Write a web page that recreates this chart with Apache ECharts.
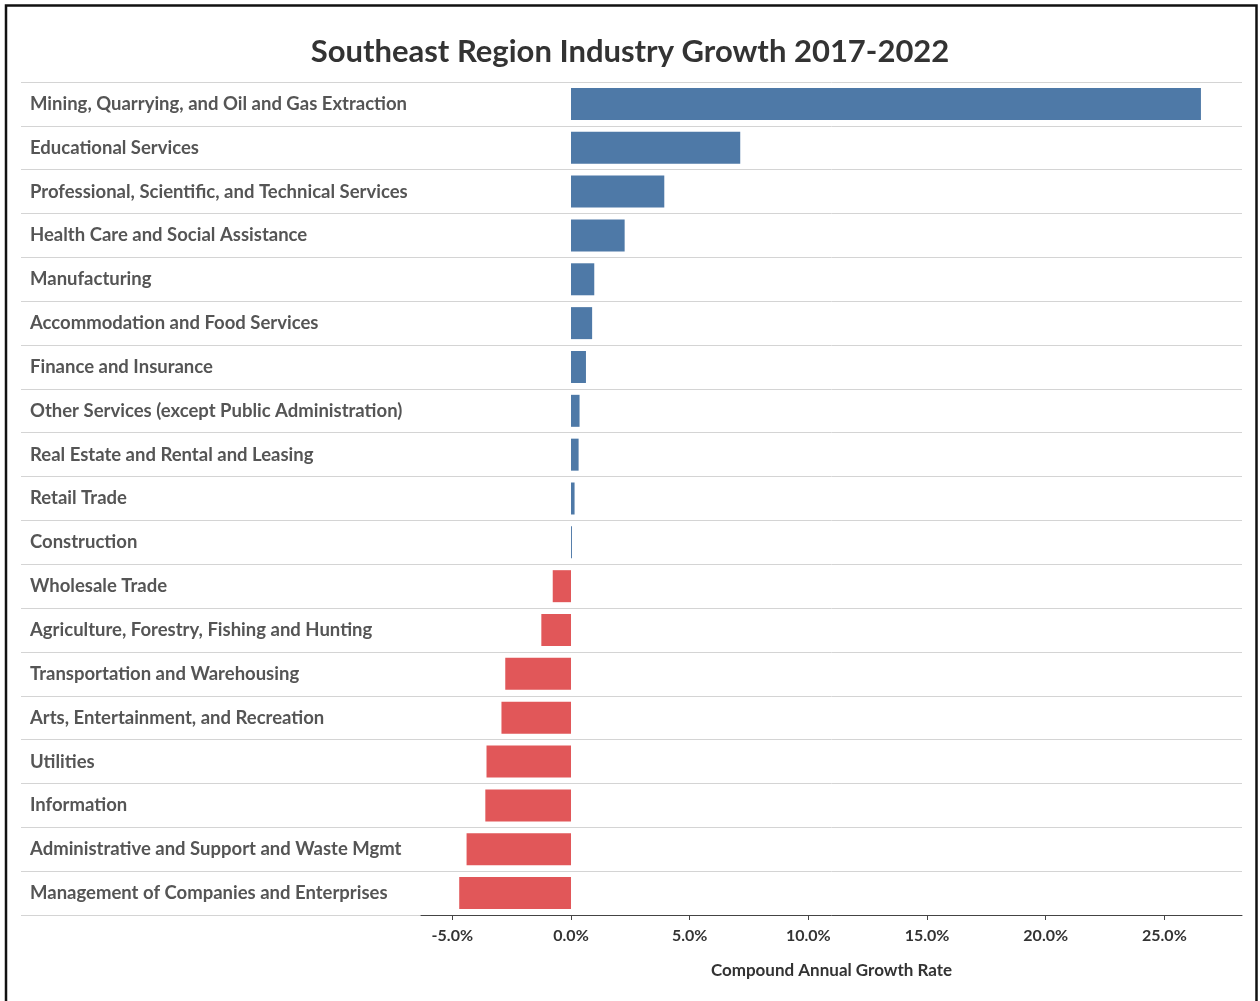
<!DOCTYPE html>
<html>
<head>
<meta charset="utf-8">
<title>Southeast Region Industry Growth 2017-2022</title>
<script src="https://cdn.jsdelivr.net/npm/echarts@6/dist/echarts.min.js"></script>
<style>
  html, body { margin: 0; padding: 0; background: #ffffff; }
  #chart { width: 1260px; height: 1001px; }
</style>
</head>
<body>
<div id="chart"></div>
<script>
// Industries, sorted from fastest growth to steepest decline
const industries = [
  'Mining, Quarrying, and Oil and Gas Extraction',
  'Educational Services',
  'Professional, Scientific, and Technical Services',
  'Health Care and Social Assistance',
  'Manufacturing',
  'Accommodation and Food Services',
  'Finance and Insurance',
  'Other Services (except Public Administration)',
  'Real Estate and Rental and Leasing',
  'Retail Trade',
  'Construction',
  'Wholesale Trade',
  'Agriculture, Forestry, Fishing and Hunting',
  'Transportation and Warehousing',
  'Arts, Entertainment, and Recreation',
  'Utilities',
  'Information',
  'Administrative and Support and Waste Mgmt',
  'Management of Companies and Enterprises'
];

// Compound annual growth rate, percent
const cagr = [
  26.54, 7.13, 3.93, 2.26, 0.98, 0.89, 0.63, 0.36, 0.32, 0.15, 0.04,
  -0.77, -1.25, -2.77, -2.93, -3.56, -3.61, -4.40, -4.71
];

// Tick values shown on the growth axis
const tickValues = [-5, 0, 5, 10, 15, 20, 25];

const POS_COLOR = '#4e79a7';
const NEG_COLOR = '#e15759';
const FONT = 'Lato, "Open Sans", sans-serif';

const chart = echarts.init(document.getElementById('chart'), null, { renderer: 'canvas' });

const gridTop = 82;
const gridBottom = 86;

const option = {
  backgroundColor: '#ffffff',
  animation: false,
  title: {
    text: 'Southeast Region Industry Growth 2017-2022',
    left: 'center',
    top: 31,
    textStyle: { fontFamily: FONT, fontSize: 31, fontWeight: 'bold', color: '#333333' }
  },
  graphic: [{
    type: 'rect',
    shape: { x: 6, y: 5.5, width: 1250.5, height: 1100 },
    style: { fill: 'none', stroke: '#111111', lineWidth: 2.5 },
    silent: true
  }],
  grid: [
    // label column
    { left: 21, width: 400, top: gridTop, bottom: gridBottom },
    // bar area
    { left: 421, right: 18, top: gridTop, bottom: gridBottom }
  ],
  xAxis: [
    { gridIndex: 0, type: 'value', show: false, min: 0, max: 1 },
    {
      gridIndex: 1,
      type: 'value',
      min: -6.32,
      max: 28.27,
      axisLine: { show: true, lineStyle: { color: '#444444', width: 1 } },
      axisTick: { show: true, length: 5, lineStyle: { color: '#444444' }, customValues: tickValues },
      axisLabel: {
        customValues: tickValues,
        formatter: v => v.toFixed(1) + '%',
        fontFamily: FONT, fontSize: 16, fontWeight: 'bold', color: '#333333', margin: 13
      },
      splitLine: { show: false },
      name: 'Compound Annual Growth Rate',
      nameLocation: 'middle',
      nameGap: 47,
      nameTextStyle: { fontFamily: FONT, fontSize: 17, fontWeight: 'bold', color: '#333333' }
    }
  ],
  yAxis: [
    {
      gridIndex: 0,
      type: 'category',
      inverse: true,
      data: industries,
      axisLine: { show: false },
      axisTick: { show: false },
      axisLabel: {
        inside: true,
        margin: 9,
        align: 'left',
        fontFamily: FONT, fontSize: 18.5, fontWeight: 'bold', color: '#555555'
      },
      splitLine: { show: true, interval: 0, lineStyle: { color: '#d4d4d4', width: 1 } }
    },
    {
      gridIndex: 1,
      type: 'category',
      inverse: true,
      data: industries,
      axisLine: { show: false },
      axisTick: { show: false },
      axisLabel: { show: false },
      splitLine: { show: true, interval: 0, lineStyle: { color: '#d4d4d4', width: 1 } }
    }
  ],
  series: [{
    type: 'bar',
    xAxisIndex: 1,
    yAxisIndex: 1,
    data: cagr,
    barWidth: 32,
    itemStyle: {
      color: p => (p.value >= 0 ? POS_COLOR : NEG_COLOR)
    }
  }]
};

chart.setOption(option);
</script>
</body>
</html>
